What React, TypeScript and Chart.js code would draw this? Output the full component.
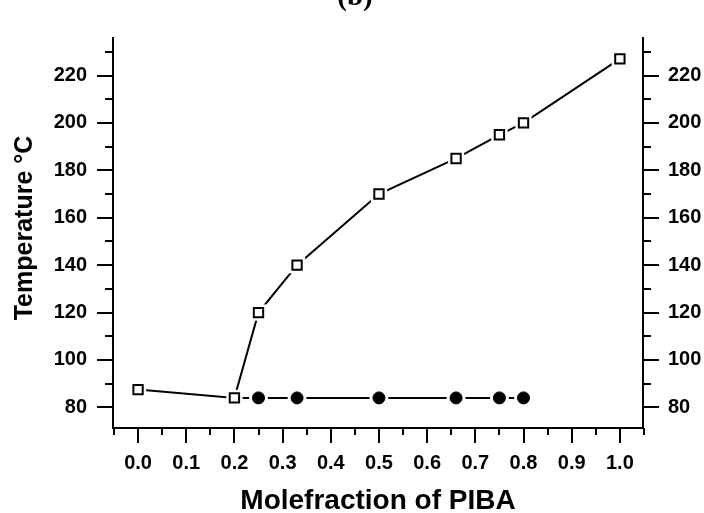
import React, { useEffect, useRef } from 'react';
import { Chart, registerables } from 'chart.js';

Chart.register(...registerables);

// ---- data ----
const liquidusX = [0, 0.2, 0.25, 0.33, 0.5, 0.66, 0.75, 0.8, 1.0];
const liquidusY = [87.5, 84, 120, 140, 170, 185, 195, 200, 227];
const solidusX = [0.2, 0.25, 0.33, 0.5, 0.66, 0.75, 0.8];
const solidusY = [84, 84, 84, 84, 84, 84, 84];

const xTicks = [0, 0.1, 0.2, 0.3, 0.4, 0.5, 0.6, 0.7, 0.8, 0.9, 1.0];
const xMinorTicks = [-0.05, 0.05, 0.15, 0.25, 0.35, 0.45, 0.55, 0.65, 0.75, 0.85, 0.95, 1.05];
const yTicks = [80, 100, 120, 140, 160, 180, 200, 220];
const yMinorTicks = [90, 110, 130, 150, 170, 190, 210, 230];

const xLabel = 'Molefraction of PIBA';
const yLabel = 'Temperature °C';
const panelLabel = '(b)';

const FONT = '"Liberation Sans", Arial, sans-serif';

const toPts = (xs: number[], ys: number[]) => xs.map((x, i) => ({ x, y: ys[i] }));

const decorPlugin = {
  id: 'decor',
  afterDraw(chart: any) {
    const ctx = chart.ctx as CanvasRenderingContext2D;
    const { x, y, y2 } = chart.scales;
    const area = chart.chartArea;
    ctx.save();
    ctx.strokeStyle = '#000';
    ctx.lineWidth = 2;
    ctx.lineCap = 'butt';
    const vt = (vals: number[], len: number) => {
      vals.forEach((v) => {
        const px = Math.round(x.getPixelForValue(v));
        ctx.beginPath();
        ctx.moveTo(px, area.bottom);
        ctx.lineTo(px, area.bottom + len);
        ctx.stroke();
      });
    };
    const ht = (vals: number[], len: number) => {
      vals.forEach((v) => {
        const py = Math.round(y.getPixelForValue(v));
        ctx.beginPath();
        ctx.moveTo(area.left, py);
        ctx.lineTo(area.left - len, py);
        ctx.stroke();
        const py2 = Math.round(y2.getPixelForValue(v));
        ctx.beginPath();
        ctx.moveTo(area.right, py2);
        ctx.lineTo(area.right + len, py2);
        ctx.stroke();
      });
    };
    vt(xTicks, 15);
    vt(xMinorTicks, 7);
    ht(yTicks, 16);
    ht(yMinorTicks, 8);

    ctx.fillStyle = '#000';
    // x title
    ctx.font = `bold 28px ${FONT}`;
    ctx.textAlign = 'center';
    ctx.textBaseline = 'alphabetic';
    ctx.fillText(xLabel, (area.left + area.right) / 2, 509);
    // y title
    ctx.font = `bold 25px ${FONT}`;
    ctx.save();
    ctx.translate(32, 228);
    ctx.rotate(-Math.PI / 2);
    ctx.fillText(yLabel, 0, 0);
    ctx.restore();
    // panel label
    ctx.font = 'bold 29px "Liberation Serif", "Times New Roman", serif';
    ctx.fillText(panelLabel, 355, 5);
    ctx.restore();
  },
};

export default function App() {
  const ref = useRef<HTMLCanvasElement | null>(null);

  useEffect(() => {
    document.body.style.margin = '0';
    const canvas = ref.current;
    if (!canvas) return;
    const chart = new Chart(canvas, {
      type: 'scatter',
      data: {
        datasets: [
          {
            data: toPts(liquidusX, liquidusY),
            showLine: true,
            borderColor: '#000',
            borderWidth: 2,
            pointRadius: 0,
            order: 3,
          },
          {
            data: toPts(solidusX, solidusY),
            showLine: true,
            borderColor: '#000',
            borderWidth: 2,
            pointRadius: 0,
            order: 3,
          },
          {
            data: toPts(liquidusX, liquidusY),
            showLine: false,
            pointStyle: 'rect',
            pointRadius: 11.5,
            backgroundColor: '#fff',
            borderColor: '#fff',
            borderWidth: 0,
            order: 2,
          },
          {
            data: toPts(solidusX, solidusY),
            showLine: false,
            pointStyle: 'circle',
            pointRadius: (c: any) => (c.dataIndex === 0 ? 0 : 9.5),
            backgroundColor: '#fff',
            borderColor: '#fff',
            borderWidth: 0,
            order: 2,
          },
          {
            data: toPts(liquidusX, liquidusY),
            showLine: false,
            pointStyle: 'rect',
            pointRadius: 6.6,
            backgroundColor: '#fff',
            borderColor: '#000',
            borderWidth: 2,
            order: 1,
          },
          {
            data: toPts(solidusX, solidusY),
            showLine: false,
            pointStyle: 'circle',
            pointRadius: (c: any) => (c.dataIndex === 0 ? 0 : 6),
            backgroundColor: '#000',
            borderColor: '#000',
            borderWidth: 1,
            order: 1,
          },
        ] as any,
      },
      options: {
        animation: false,
        responsive: false,
        layout: { padding: { top: 12, left: 0, right: 0, bottom: 0 } },
        plugins: { legend: { display: false }, tooltip: { enabled: false }, title: { display: false } },
        scales: {
          x: {
            type: 'linear',
            position: 'bottom',
            min: -0.052,
            max: 1.048,
            afterBuildTicks: (s: any) => {
              s.ticks = xTicks.map((v) => ({ value: v }));
            },
            afterFit: (s: any) => {
              s.height = 85;
            },
            ticks: {
              autoSkip: false,
              maxRotation: 0,
              padding: 23,
              color: '#000',
              font: { family: FONT, size: 20, weight: 'bold' },
              callback: (v: any) => Number(v).toFixed(1),
            },
            grid: { display: false, drawTicks: false },
            border: { display: true, color: '#000', width: 2 },
          },
          y: {
            type: 'linear',
            position: 'left',
            min: 71.3,
            max: 235.82,
            afterBuildTicks: (s: any) => {
              s.ticks = yTicks.map((v) => ({ value: v }));
            },
            afterFit: (s: any) => {
              s.width = 113;
            },
            ticks: {
              autoSkip: false,
              padding: 26,
              color: '#000',
              font: { family: FONT, size: 20, weight: 'bold' },
              callback: (v: any) => String(v),
            },
            grid: { display: false, drawTicks: false },
            border: { display: true, color: '#000', width: 2 },
          },
          y2: {
            type: 'linear',
            position: 'right',
            min: 71.3,
            max: 235.82,
            afterBuildTicks: (s: any) => {
              s.ticks = yTicks.map((v) => ({ value: v }));
            },
            afterFit: (s: any) => {
              s.width = 61;
            },
            ticks: {
              autoSkip: false,
              padding: 25,
              color: '#000',
              font: { family: FONT, size: 20, weight: 'bold' },
              callback: (v: any) => String(v),
            },
            grid: { display: false, drawTicks: false },
            border: { display: true, color: '#000', width: 2 },
          },
        },
      } as any,
      plugins: [decorPlugin],
    });
    return () => chart.destroy();
  }, []);

  return (
    <div style={{ width: 704, height: 513, background: '#fff' }}>
      <canvas ref={ref} width={704} height={513} style={{ display: 'block', width: 704, height: 513 }} />
    </div>
  );
}
